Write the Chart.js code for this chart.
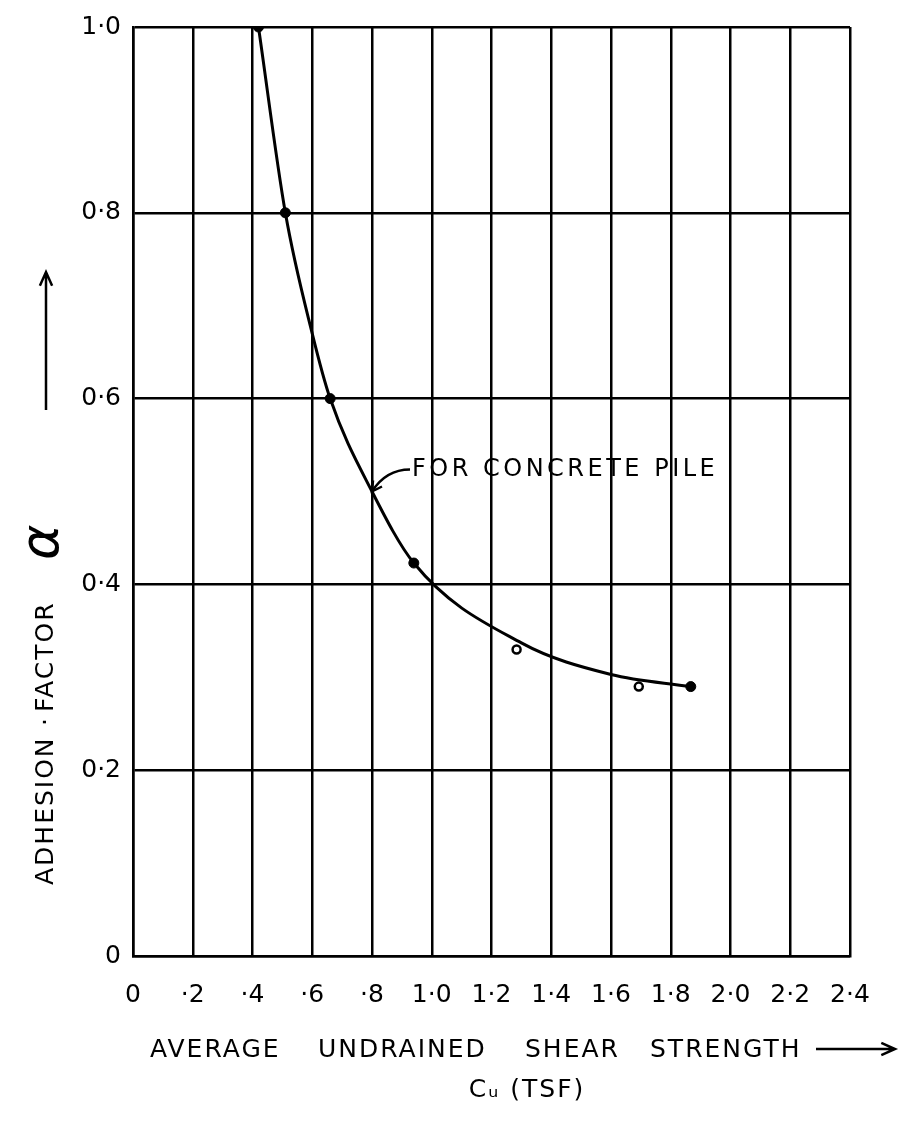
<!DOCTYPE html>
<html>
<head>
<meta charset="utf-8">
<script src="https://cdn.jsdelivr.net/npm/chart.js@4"></script>
<style>
html,body{margin:0;padding:0;background:#fff;}
#wrap{position:relative;width:899px;height:1123px;}
</style>
</head>
<body>
<div id="wrap"><canvas id="c" width="899" height="1123"></canvas></div>
<script>
// Smooth curve "FOR CONCRETE PILE"
const curveX = [0.42, 0.51, 0.60, 0.66, 0.80, 0.94, 1.30, 1.60, 1.867];
const curveY = [1.00, 0.80, 0.67, 0.60, 0.50, 0.423, 0.337, 0.303, 0.290];
// Filled data points
const solidX = [0.42, 0.51, 0.66, 0.94, 1.867];
const solidY = [1.00, 0.80, 0.60, 0.423, 0.290];
// Open data points
const openX = [1.284, 1.693];
const openY = [0.330, 0.290];
// Tick labels
const xTickLabels = ['0', '·2', '·4', '·6', '·8', '1·0', '1·2', '1·4', '1·6', '1·8', '2·0', '2·2', '2·4'];
const yTickLabels = ['0', '0·2', '0·4', '0·6', '0·8', '1·0'];
const xTitleWords = ['AVERAGE', 'UNDRAINED', 'SHEAR', 'STRENGTH'];
const xTitle2 = 'Cᵤ (TSF)';
const yTitleWords = ['ADHESION', '·', 'FACTOR'];
const yAlpha = 'α';
const curveLabel = 'FOR CONCRETE PILE';
const labelAt = {x: 0.80, y: 0.50};

const pts = (xs, ys) => xs.map((x, i) => ({x, y: ys[i]}));
const FONT = '"DejaVu Sans", sans-serif';

function arrow(ctx, x0, y0, x1, y1) {
  const a = Math.atan2(y1 - y0, x1 - x0), h = 15;
  ctx.beginPath();
  ctx.moveTo(x0, y0); ctx.lineTo(x1, y1);
  ctx.moveTo(x1 - h * Math.cos(a - 0.42), y1 - h * Math.sin(a - 0.42));
  ctx.lineTo(x1, y1);
  ctx.lineTo(x1 - h * Math.cos(a + 0.42), y1 - h * Math.sin(a + 0.42));
  ctx.stroke();
}

const annot = {
  id: 'annot',
  afterDraw(chart) {
    const ctx = chart.ctx;
    const xs = chart.scales.x, ys = chart.scales.y;
    ctx.save();
    ctx.fillStyle = '#000';
    ctx.strokeStyle = '#000';
    ctx.lineWidth = 2.5;
    // leader for curve label
    const px = xs.getPixelForValue(labelAt.x), py = ys.getPixelForValue(labelAt.y);
    ctx.beginPath();
    ctx.moveTo(px, py);
    ctx.quadraticCurveTo(px + 14, py - 22, px + 38, py - 22);
    ctx.stroke();
    ctx.beginPath();
    ctx.moveTo(px + 1, py - 11);
    ctx.lineTo(px, py);
    ctx.lineTo(px + 10, py - 5);
    ctx.stroke();
    ctx.font = '24px ' + FONT;
    ctx.letterSpacing = '3.5px';
    ctx.textBaseline = 'middle';
    ctx.textAlign = 'left';
    ctx.fillText(curveLabel, px + 40, py - 22);

    // x title
    ctx.font = '25px ' + FONT;
    ctx.letterSpacing = '2px';
    const wx = [150, 318, 525, 650];
    xTitleWords.forEach((w, i) => ctx.fillText(w, wx[i], 1050));
    arrow(ctx, 816, 1049, 895, 1049);
    ctx.textAlign = 'center';
    ctx.fillText(xTitle2, 527, 1090);

    // y title (rotated)
    ctx.translate(46, 0);
    ctx.rotate(-Math.PI / 2);
    ctx.textAlign = 'left';
    ctx.font = '25px ' + FONT;
    ctx.fillText(yTitleWords[0], -885, 0);
    ctx.fillText(yTitleWords[1], -726, 0);
    ctx.fillText(yTitleWords[2], -712, 0);
    ctx.font = 'italic 54px ' + FONT;
    ctx.letterSpacing = '0px';
    ctx.fillText(yAlpha, -560, -2);
    arrow(ctx, -410, 0, -272, 0);
    ctx.restore();
  }
};

new Chart(document.getElementById('c'), {
  type: 'scatter',
  data: {
    datasets: [
      {
        data: pts(curveX, curveY),
        showLine: true,
        borderColor: '#000',
        borderWidth: 3,
        pointRadius: 0,
        cubicInterpolationMode: 'monotone',
        fill: false
      },
      {
        data: pts(solidX, solidY),
        showLine: false,
        pointRadius: 5,
        pointBackgroundColor: '#000',
        pointBorderColor: '#000',
        pointBorderWidth: 1
      },
      {
        data: pts(openX, openY),
        showLine: false,
        pointRadius: 4,
        pointBackgroundColor: '#fff',
        pointBorderColor: '#000',
        pointBorderWidth: 2.5
      }
    ]
  },
  options: {
    responsive: false,
    animation: false,
    devicePixelRatio: 1,
    layout: {padding: {left: 0, right: 49, top: 16, bottom: 0}},
    plugins: {legend: {display: false}, tooltip: {enabled: false}},
    scales: {
      x: {
        type: 'linear', min: 0, max: 2.4,
        afterFit(s) { s.height = 167; },
        afterBuildTicks(s) { s.ticks = xTickLabels.map((_, i) => ({value: i * 0.2})); },
        ticks: {
          color: '#000', font: {family: FONT, size: 25}, padding: 24,
          maxRotation: 0, autoSkip: false,
          callback: (v, i) => xTickLabels[i]
        },
        grid: {color: '#000', lineWidth: 2.5, drawTicks: false},
        border: {color: '#000', width: 2.5}
      },
      y: {
        type: 'linear', min: 0, max: 1,
        afterFit(s) { s.width = 133; },
        afterBuildTicks(s) { s.ticks = yTickLabels.map((_, i) => ({value: i * 0.2})); },
        ticks: {
          color: '#000', font: {family: FONT, size: 25}, padding: 12,
          autoSkip: false,
          callback: (v, i) => yTickLabels[i]
        },
        grid: {color: '#000', lineWidth: 2.5, drawTicks: false},
        border: {color: '#000', width: 2.5}
      }
    }
  },
  plugins: [annot]
});
</script>
</body>
</html>
